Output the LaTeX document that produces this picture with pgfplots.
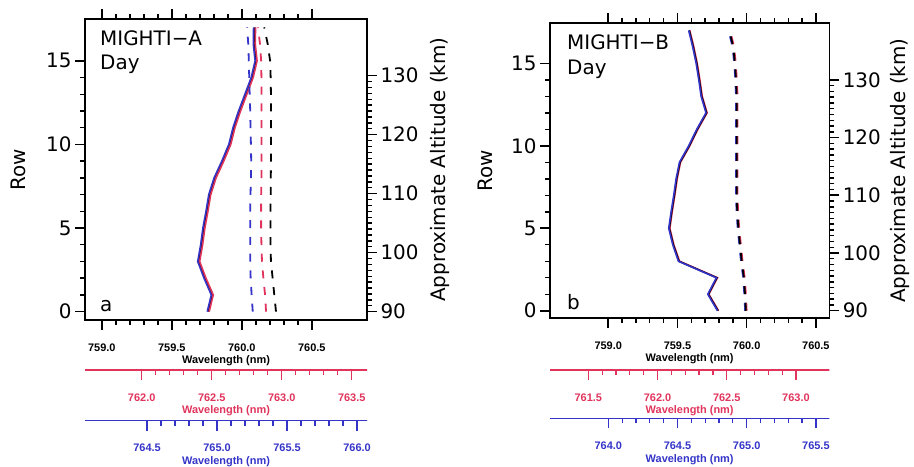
\documentclass[border=0pt]{standalone}
\usepackage{fontspec}
\setmainfont{DejaVu Sans}
\newfontfamily\smallf{Liberation Sans}
\usepackage{pgfplots}
\usepackage{pgfplotstable}
\pgfplotsset{compat=1.18}
\definecolor{cred}{RGB}{224,52,92}
\definecolor{cblue}{RGB}{52,52,200}
\newcommand{\bigf}{\fontsize{20}{20}\selectfont}
\newcommand{\tickf}{\smallf\bfseries\fontsize{11}{11}\selectfont}

\pgfplotstableread{
row solk    solb    solr    dashb   dashr   dashk
0   759.761 759.753 759.767 760.078 760.173 760.244
1   759.790 759.782 759.796 760.070 760.166 760.232
2   759.738 759.730 759.744 760.063 760.154 760.220
3   759.693 759.685 759.699 760.060 760.144 760.208
4   759.714 759.706 759.720 760.060 760.140 760.205
5   759.730 759.722 759.736 760.060 760.138 760.205
6   759.752 759.744 759.758 760.060 760.138 760.205
7   759.772 759.764 759.778 760.062 760.138 760.206
8   759.810 759.802 759.816 760.065 760.140 760.207
9   759.865 759.857 759.871 760.067 760.140 760.208
10  759.915 759.907 759.921 760.065 760.140 760.208
11  759.945 759.937 759.951 760.062 760.140 760.208
12  759.985 759.977 759.991 760.060 760.140 760.208
13  760.030 760.022 760.036 760.056 760.140 760.208
14  760.075 760.067 760.081 760.053 760.140 760.206
15  760.103 760.095 760.109 760.050 760.138 760.202
16  760.090 760.082 760.096 760.046 760.130 760.185
17  760.092 760.084 760.098 760.038 760.115 760.160
}\dataA

\pgfplotstableread{
row solk    solb    solr    dashk   dashb   dashr
0   759.793 759.789 759.797 759.994 759.989 760.000
1   759.723 759.719 759.727 759.988 759.983 759.994
2   759.785 759.781 759.789 759.980 759.975 759.986
3   759.511 759.507 759.515 759.964 759.959 759.970
4   759.470 759.466 759.474 759.952 759.947 759.958
5   759.441 759.437 759.445 759.940 759.935 759.946
6   759.458 759.454 759.462 759.932 759.927 759.938
7   759.477 759.473 759.481 759.928 759.923 759.934
8   759.494 759.490 759.498 759.928 759.923 759.934
9   759.518 759.514 759.522 759.928 759.923 759.934
10  759.585 759.581 759.589 759.928 759.923 759.934
11  759.643 759.639 759.647 759.928 759.923 759.934
12  759.710 759.706 759.714 759.928 759.923 759.934
13  759.675 759.671 759.679 759.928 759.923 759.934
14  759.658 759.654 759.662 759.923 759.918 759.929
15  759.639 759.635 759.643 759.915 759.910 759.921
16  759.614 759.610 759.618 759.903 759.898 759.909
17  759.585 759.581 759.589 759.874 759.869 759.880
}\dataB

\pgfplotsset{
  /pgf/number format/assume math mode=true,
  common/.style={scale only axis, anchor=south west, tick align=outside,
    major tick length=10bp, minor tick length=5bp,
    axis line style={line width=1.6bp}},
  tks/.style={every tick/.style={black, line width=1.6bp}, every minor tick/.style={black, line width=1.4bp}},
  wavelabels/.style={
    xticklabel style={font=\tickf, yshift=-10bp, /pgf/number format/fixed, /pgf/number format/fixed zerofill, /pgf/number format/precision=1},
    xlabel={Wavelength (nm)},
    xlabel style={font=\tickf, at={(axis description cs:0.5,0)}, yshift=-41bp, anchor=center},
    minor x tick num=4},
  coloraxis/.style={common, wavelabels, height=0.1bp, hide y axis,
    ymin=0, ymax=1, xtick pos=left, xticklabel pos=left,
    axis line style={line width=1.2bp, #1},
    every tick/.style={#1, line width=1.3bp},
    every minor tick/.style={#1, line width=1.2bp},
    xticklabel style={#1}, xlabel style={#1}},
  gbar/.style={scale only axis, anchor=south west, axis line style={draw=none},
    tick style={draw=none}, major tick length=0pt, minor tick length=0pt,
    major grid style={black, line width=1.5bp},
    minor grid style={black, line width=1.3bp}},
  gx/.style={gbar, ymin=0, ymax=1, ytick=\empty, xticklabels={}},
  gy/.style={gbar, xmin=0, xmax=1, xtick=\empty, yticklabels={}},
  sol/.style={line width=1.6bp},
  dsh/.style={line width=1.8bp, dash pattern=on 8bp off 8.7bp},
}

\begin{document}
\begin{tikzpicture}
\path[use as bounding box] (0,0) rectangle (914bp,467bp);

% ---------------- Panel A ----------------
\begin{axis}[common, wavelabels, tks, at={(85bp,147bp)}, width=282bp, height=301bp,
  xmin=758.88, xmax=760.894, ymin=-0.5, ymax=17.5,
  xtick={759,759.5,760,760.5}, xtick pos=left, xticklabel pos=left,
  ytick={0,5,10,15}, minor y tick num=4, ytick pos=left, yticklabel pos=left,
  yticklabel style={font=\bigf},
  ylabel={Row}, ylabel style={font=\bigf, at={(axis description cs:-0.2376,0.5)}, anchor=center}]
\addplot[black, sol] table[x=solk, y=row]{\dataA};
\addplot[cblue, sol] table[x=solb, y=row]{\dataA};
\addplot[cred, sol] table[x=solr, y=row]{\dataA};
\addplot[cblue, dsh] table[x=dashb, y=row]{\dataA};
\addplot[cred, dsh] table[x=dashr, y=row]{\dataA};
\addplot[black, dsh] table[x=dashk, y=row]{\dataA};
\end{axis}
\begin{axis}[common, tks, at={(85bp,147bp)}, width=282bp, height=301bp,
  xmin=758.88, xmax=760.894, xtick={759,759.5,760,760.5}, minor x tick num=4,
  xtick pos=right, xticklabels={},
  ymin=88.58, ymax=139.6,
  ytick={90,100,110,120,130}, minor y tick num=9, ytick pos=right, yticklabel pos=right,
  yticklabel style={font=\bigf},
  ylabel={Approximate Altitude (km)}, ylabel style={font=\bigf, at={(axis description cs:1.2589,0.5)}, anchor=center}]
\end{axis}
% tick marks of panel A drawn as short grid lines
\begin{axis}[gx, at={(85bp,137bp)}, width=282bp, height=10bp, xmin=758.88, xmax=760.894,
  xtick={759,759.5,760,760.5}, xmajorgrids]
\end{axis}
\begin{axis}[gx, at={(85bp,142bp)}, width=282bp, height=5bp, xmin=758.88, xmax=760.894,
  xtick={759,759.5,760,760.5}, minor x tick num=4, xminorgrids]
\end{axis}
\begin{axis}[gx, at={(85bp,448bp)}, width=282bp, height=10bp, xmin=758.88, xmax=760.894,
  xtick={759,759.5,760,760.5}, xmajorgrids]
\end{axis}
\begin{axis}[gx, at={(85bp,448bp)}, width=282bp, height=5bp, xmin=758.88, xmax=760.894,
  xtick={759,759.5,760,760.5}, minor x tick num=4, xminorgrids]
\end{axis}
\begin{axis}[gy, at={(75bp,147bp)}, width=10bp, height=301bp, ymin=-0.5, ymax=17.5,
  ytick={0,5,10,15}, ymajorgrids]
\end{axis}
\begin{axis}[gy, at={(80bp,147bp)}, width=5bp, height=301bp, ymin=-0.5, ymax=17.5,
  ytick={0,5,10,15}, minor y tick num=4, yminorgrids]
\end{axis}
\begin{axis}[coloraxis=cred, at={(85bp,97bp)}, width=282bp,
  xmin=761.595, xmax=763.609, xtick={762,762.5,763,763.5}]
\end{axis}
\begin{axis}[coloraxis=cblue, at={(85bp,46.3bp)}, width=282bp,
  xmin=764.057, xmax=766.071, xtick={764.5,765,765.5,766}]
\end{axis}
\node[font=\bigf, anchor=base west, inner sep=0] at (100bp,421.5bp) {MIGHTI−A};
\node[font=\bigf, anchor=base west, inner sep=0] at (100bp,397bp) {Day};
\node[font=\bigf, anchor=base west, inner sep=0] at (100bp,155.5bp) {a};

% ---------------- Panel B ----------------
\begin{axis}[common, wavelabels, tks, at={(550bp,149bp)}, width=279.3bp, height=295bp,
  xmin=758.579, xmax=760.597, ymin=-0.44, ymax=17.45,
  xtick={759,759.5,760,760.5}, xtick pos=left, xticklabel pos=left,
  ytick={0,5,10,15}, minor y tick num=4, ytick pos=left, yticklabel pos=left,
  yticklabel style={font=\bigf},
  ylabel={Row}, ylabel style={font=\bigf, at={(axis description cs:-0.230,0.5)}, anchor=center}]
\addplot[cred, sol] table[x=solr, y=row]{\dataB};
\addplot[black, sol] table[x=solk, y=row]{\dataB};
\addplot[cblue, sol] table[x=solb, y=row]{\dataB};
\addplot[cred, dsh] table[x=dashr, y=row]{\dataB};
\addplot[cblue, dsh] table[x=dashb, y=row]{\dataB};
\addplot[black, dsh] table[x=dashk, y=row]{\dataB};
\end{axis}
\begin{axis}[common, tks, at={(550bp,149bp)}, width=279.3bp, height=295bp,
  xmin=758.579, xmax=760.597, xtick={759,759.5,760,760.5}, minor x tick num=4,
  xtick pos=right, xticklabels={},
  ymin=88.73, ymax=139.86,
  ytick={90,100,110,120,130}, minor y tick num=9, ytick pos=right, yticklabel pos=right,
  yticklabel style={font=\bigf},
  ylabel={Approximate Altitude (km)}, ylabel style={font=\bigf, at={(axis description cs:1.253,0.5)}, anchor=center}]
\end{axis}
% tick marks of panel B drawn as short grid lines
\begin{axis}[gx, at={(550bp,139bp)}, width=279.3bp, height=10bp, xmin=758.579, xmax=760.597,
  xtick={759,759.5,760,760.5}, xmajorgrids]
\end{axis}
\begin{axis}[gx, at={(550bp,144bp)}, width=279.3bp, height=5bp, xmin=758.579, xmax=760.597,
  xtick={759,759.5,760,760.5}, minor x tick num=4, xminorgrids]
\end{axis}
\begin{axis}[gy, at={(540bp,149bp)}, width=10bp, height=295bp, ymin=-0.44, ymax=17.45,
  ytick={0,5,10,15}, ymajorgrids]
\end{axis}
\begin{axis}[gy, at={(545bp,149bp)}, width=5bp, height=295bp, ymin=-0.44, ymax=17.45,
  ytick={0,5,10,15}, minor y tick num=4, yminorgrids]
\end{axis}
\begin{axis}[coloraxis=cred, at={(550bp,97bp)}, width=279.3bp,
  xmin=761.223, xmax=763.241, xtick={761.5,762,762.5,763}]
\end{axis}
\begin{axis}[coloraxis=cblue, at={(550bp,48.7bp)}, width=279.3bp,
  xmin=763.579, xmax=765.597, xtick={764,764.5,765,765.5}]
\end{axis}
\node[font=\bigf, anchor=base west, inner sep=0] at (567bp,417bp) {MIGHTI−B};
\node[font=\bigf, anchor=base west, inner sep=0] at (567bp,392bp) {Day};
\node[font=\bigf, anchor=base west, inner sep=0] at (567bp,157bp) {b};
\end{tikzpicture}
\end{document}
